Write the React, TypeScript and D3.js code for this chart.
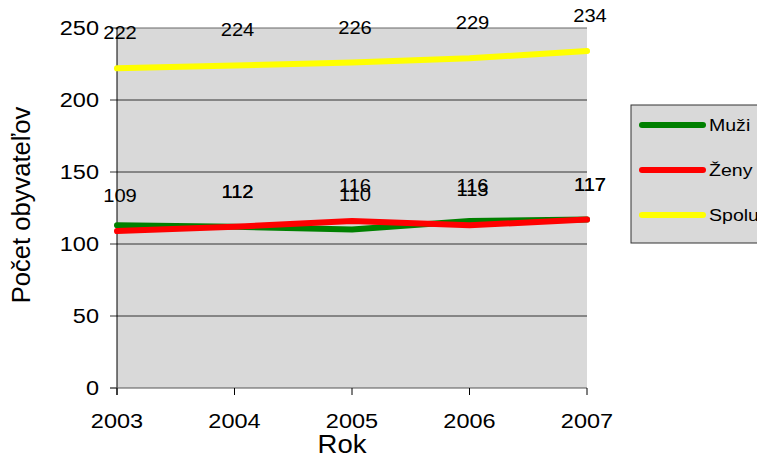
import React from 'react';
import * as d3 from 'd3';

const years = [2003, 2004, 2005, 2006, 2007];
const muzi = [113, 112, 110, 116, 117];
const zeny = [109, 112, 116, 113, 117];
const spolu = [222, 224, 226, 229, 234];
// Excel hid the Muži label in 2003
const muziLabelShown = [false, true, true, true, true];
const yTicks = [0, 50, 100, 150, 200, 250];

const seriesList = [
  { name: 'Muži', values: muzi, color: '#008000', labels: muziLabelShown },
  { name: 'Ženy', values: zeny, color: '#ff0000', labels: years.map(() => true) },
  { name: 'Spolu', values: spolu, color: '#ffff00', labels: years.map(() => true) },
];

const W = 757;
const H = 466;
const plot = { left: 117, right: 587, top: 28, bottom: 388 };
const font = '"Liberation Sans", Arial, sans-serif';

// the old chart renders its text a bit wider than Arial, so stretch it horizontally
const T = ({ x, y, size, anchor = 'start', sx = 1.12, children }: any) => (
  <text
    transform={`translate(${x},${y}) scale(${sx},1)`}
    fontSize={size}
    textAnchor={anchor}
    fill="#000"
  >
    {children}
  </text>
);

export default function App() {
  const x = d3.scaleLinear().domain([2003, 2007]).range([plot.left, plot.right]);
  const y = d3.scaleLinear().domain([0, 250]).range([plot.bottom, plot.top]);

  const line = d3.line<number>()
    .x((_, i) => x(years[i]))
    .y(d => y(d));

  return (
    <svg
      width={W}
      height={H}
      style={{ position: 'absolute', left: 0, top: 0, background: '#fff' }}
      fontFamily={font}
    >
      <rect x={plot.left} y={plot.top} width={plot.right - plot.left} height={plot.bottom - plot.top} fill="#d9d9d9" />

      {yTicks.map(t => (
        <g key={t}>
          {t > 0 && (
            <line x1={plot.left} x2={plot.right} y1={y(t)} y2={y(t)} stroke={t === 250 ? '#666' : '#333'} strokeWidth={1} />
          )}
          <line x1={plot.left - 7} x2={plot.left} y1={y(t)} y2={y(t)} stroke="#333" />
          <T x={plot.left - 18} y={y(t) + 7} size={21} anchor="end">{t}</T>
        </g>
      ))}

      <line x1={plot.left} x2={plot.left} y1={plot.top} y2={plot.bottom + 7} stroke="#000" />
      <line x1={plot.left - 7} x2={plot.right} y1={plot.bottom} y2={plot.bottom} stroke="#555" />
      {years.map(yr => (
        <g key={yr}>
          <line x1={x(yr)} x2={x(yr)} y1={plot.bottom} y2={plot.bottom + 7} stroke="#000" />
          <T x={x(yr)} y={428} size={21} anchor="middle">{yr}</T>
        </g>
      ))}

      {seriesList.map(s => (
        <path key={s.name} d={line(s.values) ?? ''} fill="none" stroke={s.color} strokeWidth={6} strokeLinecap="round" strokeLinejoin="round" />
      ))}

      {seriesList.map(s =>
        s.values.map((v, i) =>
          s.labels[i] ? (
            <T key={s.name + i} x={x(years[i]) + 3} y={y(v) - 29} size={18} anchor="middle">{v}</T>
          ) : null
        )
      )}

      <T x={342} y={453} size={25} anchor="middle" sx={1.1}>Rok</T>
      <text transform="translate(30,205) rotate(-90)" fontSize={25.6} textAnchor="middle" fill="#000">Počet obyvateľov</text>

      <rect x={631} y={105} width={140} height={138} fill="#d9d9d9" stroke="#333" strokeWidth={1} />
      {seriesList.map((s, i) => {
        const ly = 125 + i * 45;
        return (
          <g key={s.name}>
            <line x1={642} x2={703} y1={ly} y2={ly} stroke={s.color} strokeWidth={6} strokeLinecap="round" />
            <T x={709} y={ly + 6} size={17} sx={1.15}>{s.name}</T>
          </g>
        );
      })}
    </svg>
  );
}
